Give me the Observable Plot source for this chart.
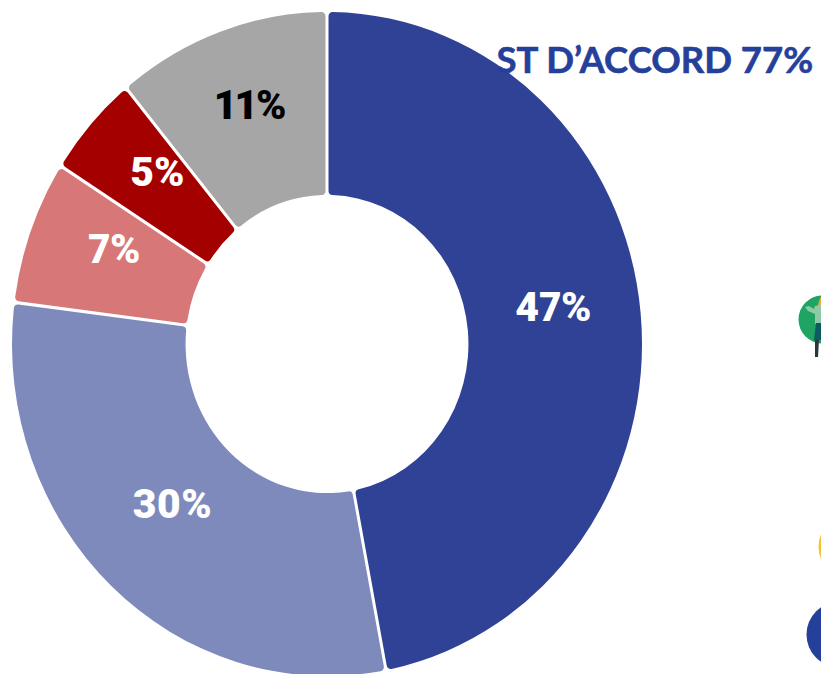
<!DOCTYPE html>
<html><head><meta charset="utf-8">
<script src="https://cdn.jsdelivr.net/npm/d3@7"></script>
<script src="https://cdn.jsdelivr.net/npm/@observablehq/plot@0.6"></script>
<style>html,body{margin:0;padding:0;background:#fff;overflow:hidden}svg{display:block}</style>
</head><body><div id="chart"></div>
<script>
const shares = [47, 30, 7, 5, 11];
const labels = ["47%", "30%", "7%", "5%", "11%"];
const fills = ["#2f4295", "#7e8abc", "#d77777", "#a50000", "#a6a6a6"];
const labelFills = ["#fff", "#fff", "#fff", "#fff", "#000"];
const titleText = "ST D\u2019ACCORD 77%";
const innerRatio = 0.449, labelRadius = 0.72;

const pie = d3.pie().sort(null)(shares);
const labelRows = pie.map((s, i) => {
  const a = (s.startAngle + s.endAngle) / 2;
  return {x: labelRadius * Math.sin(a), y: labelRadius * Math.cos(a), label: labels[i], fill: labelFills[i]};
});

// Donut mark: arcs are drawn through Plot's x and y scales (which are not isotropic in the reference).
function donut() {
  return (index, scales) => {
    const cx = scales.x(0), cy = scales.y(0), rx = scales.x(1) - cx, ry = cy - scales.y(1);
    const arc = d3.arc().innerRadius(rx * innerRatio).outerRadius(rx).padAngle(3 / rx).padRadius(rx).cornerRadius(4);
    const g = d3.create("svg:g").attr("transform", `translate(${cx},${cy}) scale(1,${ry / rx})`);
    g.selectAll("path").data(pie).join("path").attr("d", arc).attr("fill", (d, i) => fills[i]);
    return g.node();
  };
}

// Cropped decorations at the right edge of the picture.
const figure = [
  {d: "M818 305 Q821 294 823 296 L823 306 Z", fill: "#f0a93c"},
  {d: "M815 306 L823 304 L823 324 L815 324 L815 314 L808 311 L805 307 L809 306 L814 309 Z", fill: "#8fc9a6"},
  {d: "M816 323 L823 323 L823 340 L814 340 Z", fill: "#0d5a63"},
  {d: "M815 340 L819 340 L818 357 L815 357 Z", fill: "#2a3a3a"}
];
function figureMark() {
  return () => {
    const g = d3.create("svg:g");
    g.selectAll("path").data(figure).join("path").attr("d", d => d.d).attr("fill", d => d.fill);
    return g.node();
  };
}

const plot = Plot.plot({
  width: 821, height: 674, margin: 0,
  x: {domain: [-1, 1], range: [12, 642], axis: null},
  y: {domain: [-1, 1], range: [676, 12], axis: null},
  marks: [
    donut(),
    Plot.text(labelRows, {x: "x", y: "y", text: "label", fill: "fill", dy: -14,
      fontFamily: "Roboto", fontWeight: 900, fontSize: 41, fontVariant: "proportional-nums", style: {letterSpacing: "-1px"}}),
    Plot.text([titleText], {frameAnchor: "top-left", dx: 496, dy: 47, textAnchor: "start",
      fill: "#24409a", stroke: "#24409a", strokeWidth: 0.6, fontFamily: "Lato", fontWeight: 700, fontSize: 36.5}),
    Plot.dot([0], {frameAnchor: "top-left", dx: 822, dy: 319, r: 24, fill: "#1fa463"}),
    figureMark(),
    Plot.dot([0], {frameAnchor: "top-left", dx: 850, dy: 546, r: 32, fill: "#f6c232"}),
    Plot.dot([0], {frameAnchor: "top-left", dx: 839, dy: 634, r: 33, fill: "#24409a"})
  ]
});
document.getElementById("chart").append(plot);
</script></body></html>
